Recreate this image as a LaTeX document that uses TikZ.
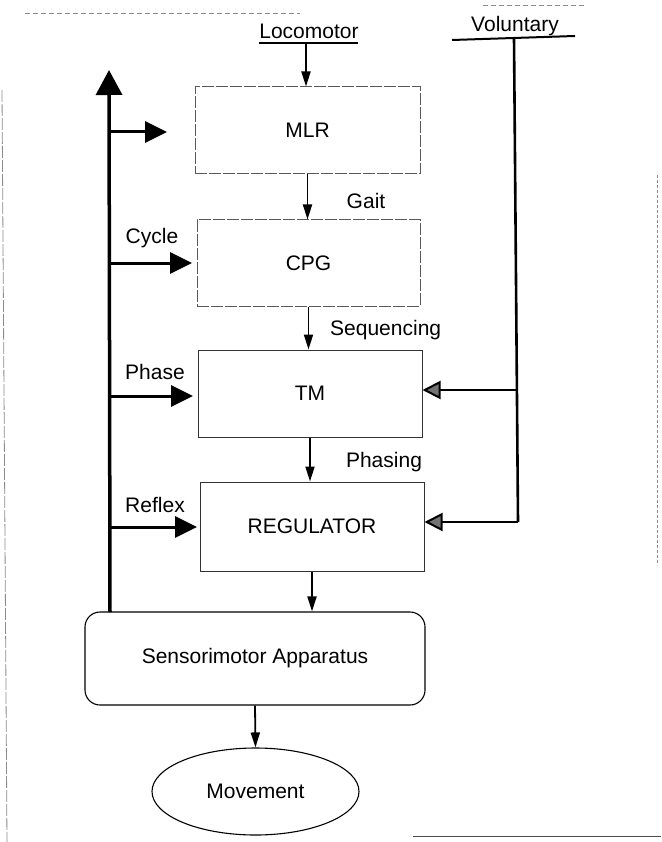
\documentclass[tikz,border=0pt]{standalone}
\usepackage{fontspec}
\setmainfont{Liberation Sans}
\usetikzlibrary{arrows.meta,shapes.geometric}
\begin{document}
\begin{tikzpicture}[x=1pt,y=-1pt,
  font=\fontsize{21}{25}\selectfont,
  box/.style={draw=black!80, line width=1pt, inner sep=0pt},
  faintbox/.style={box, draw=black!65, dash pattern=on 12pt off 2pt},
  sabox/.style={draw=black, line width=1.1pt, rounded corners=15pt, inner sep=0pt},
  movnode/.style={ellipse, draw=black, line width=1.1pt, inner sep=0pt},
  sarrow/.style={line width=1.8pt, -{Triangle[length=15pt,width=9pt]}},
  bus/.style={line width=3.5pt, -{Triangle[length=25pt,width=26pt]}},
  branch/.style={line width=3pt, -{Triangle[length=22pt,width=21pt]}},
  volline/.style={line width=2.6pt},
  volarrow/.style={line width=2.5pt, -{Triangle[length=18pt,width=18pt,fill=black!55,line width=2pt]}},
  underl/.style={line width=2.6pt},
  artifact/.style={draw=black!45, line width=0.8pt, dash pattern=on 5pt off 3pt}
]
\useasboundingbox (0,0) rectangle (661,842);

% scan border remnants
\draw[artifact] (25,13) -- (300,13);
\draw[artifact] (483,5) -- (585,5);
\draw[artifact, dash pattern=on 12pt off 2pt] (2,90) -- (7,842);
\draw[artifact, dash pattern=on 3pt off 2pt] (657,175) -- (657,565);
\draw[draw=black!70, line width=1pt] (413,836) -- (661,836);

% boxes
\node[faintbox, minimum width=225pt, minimum height=87pt] (mlr) at (307.5,130.5) {MLR};
\node[faintbox, minimum width=223pt, minimum height=86pt] (cpg) at (308.5,263) {CPG};
\node[box, minimum width=224pt, minimum height=87pt] (tm) at (310,393.5) {TM};
\node[box, minimum width=224pt, minimum height=89pt] (reg) at (312,526.5) {REGULATOR};
\node[sabox, minimum width=340pt, minimum height=93pt] (sa) at (255,658.5) {Sensorimotor Apparatus};
\node[movnode, minimum width=207pt, minimum height=87pt] (mov) at (255.5,791.5) {Movement};

% inputs
\node (loco) at (309,31) {Locomotor};
\coordinate (locol) at (259,43);
\coordinate (locor) at (358,43);
\coordinate (locobar) at (306,43);
\draw[underl] (locol) -- (locor);
\draw[sarrow] (locobar) -- (locobar |- mlr.north);

\node (vol) at (515,26) {Voluntary};
\coordinate (voll) at (452,40);
\coordinate (volr) at (575,36);
\draw[line width=2pt] (voll) -- (volr);
\coordinate (vtop) at (514,38);
\coordinate (vmid) at (517,390);
\coordinate (vbot) at (518,522);
\draw[volline] (vtop) -- (vbot);
\draw[volarrow] (vmid) -- (vmid -| tm.east);
\draw[volarrow] (vbot) -- (vbot -| reg.east);

% main chain
\draw[sarrow] (mlr.south) -- (mlr.south |- cpg.north);
\draw[sarrow] (cpg.south) -- (cpg.south |- tm.north);
\draw[sarrow] (tm.south) -- (tm.south |- reg.north);
\draw[sarrow] (reg.south) -- (reg.south |- sa.north);
\draw[sarrow] (sa.south) -- (mov.north);

\node (gait) at (366,201) {Gait};
\node[anchor=west, inner sep=0pt] (seq) at (330,330) {Sequencing};
\node (phasing) at (384,462) {Phasing};

% feedback bus
\coordinate (busbot) at (110,612);
\coordinate (bustop) at (109,70);
\draw[bus] (busbot) -- (bustop);
\coordinate (b1) at (109,132);
\coordinate (t1) at (167,132);
\coordinate (b2) at (109,263);
\coordinate (t2) at (192,263);
\coordinate (b3) at (110,396);
\coordinate (t3) at (193,396);
\coordinate (b4) at (110,527);
\coordinate (t4) at (197,527);
\draw[branch] (b1) -- (t1);
\draw[branch] (b2) -- (t2);
\draw[branch] (b3) -- (t3);
\draw[branch] (b4) -- (t4);

\node (cycle) at (152,238) {Cycle};
\node (phase) at (155,372) {Phase};
\node (reflex) at (155,505) {Reflex};
\end{tikzpicture}
\end{document}
